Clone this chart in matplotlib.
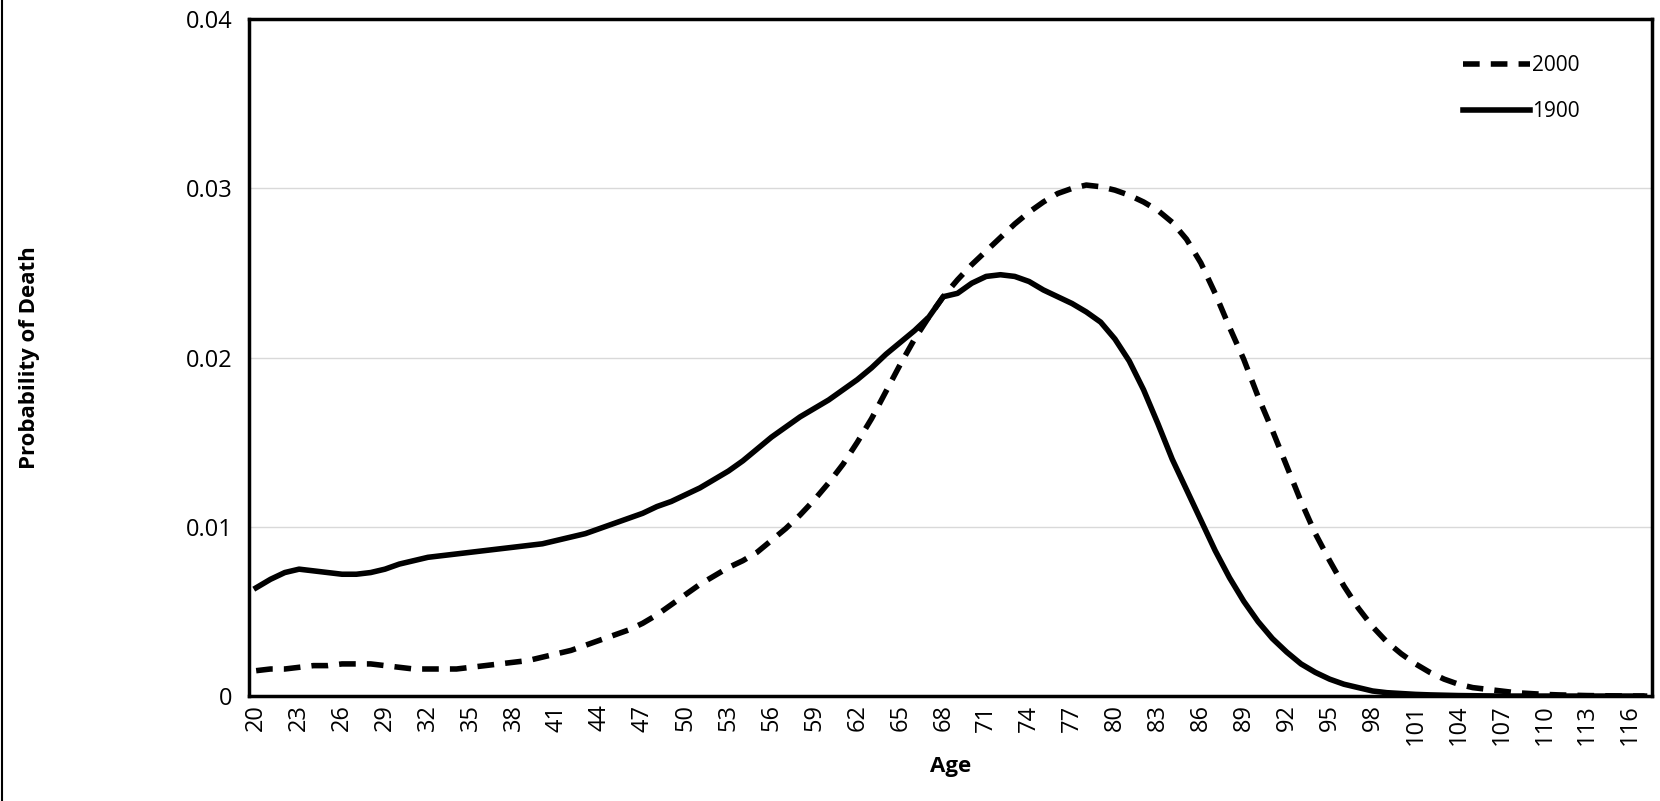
import matplotlib
matplotlib.use("Agg")
import matplotlib.pyplot as plt

plt.rcParams['font.family'] = ['Open Sans', 'DejaVu Sans']

# ages 20..117 (category axis)
ages = list(range(20, 118))

prob_1900 = [
    .0064, .0069, .0073, .0075, .0074, .0073, .0072, .0072, .0073, .0075,
    .0078, .0080, .0082, .0083, .0084, .0085, .0086, .0087, .0088, .0089,
    .0090, .0092, .0094, .0096, .0099, .0102, .0105, .0108, .0112, .0115,
    .0119, .0123, .0128, .0133, .0139, .0146, .0153, .0159, .0165, .0170,
    .0175, .0181, .0187, .0194, .0202, .0209, .0216, .0224, .0236, .0238,
    .0244, .0248, .0249, .0248, .0245, .0240, .0236, .0232, .0227, .0221,
    .0211, .0198, .0181, .0161, .0140, .0122, .0104, .0086, .0070, .0056,
    .0044, .0034, .0026, .0019, .0014, .0010, .0007, .0005, .0003, .0002,
    .00015, .0001, .00007, .00005, .00003, .00002, .00001, 0, 0, 0,
    0, 0, 0, 0, 0, 0, 0, 0,
]

prob_2000 = [
    .0015, .0016, .0016, .0017, .0018, .0018, .0019, .0019, .0019, .0018,
    .0017, .0016, .0016, .0016, .0016, .0017, .0018, .0019, .0020, .0021,
    .0023, .0025, .0027, .0030, .0033, .0036, .0039, .0043, .0048, .0054,
    .0060, .0066, .0071, .0076, .0080, .0085, .0092, .0099, .0107, .0116,
    .0126, .0137, .0150, .0164, .0180, .0196, .0211, .0224, .0236, .0246,
    .0255, .0263, .0271, .0279, .0286, .0292, .0297, .0300, .0302, .0301,
    .0299, .0296, .0292, .0287, .0280, .0270, .0256, .0238, .0218, .0199,
    .0177, .0157, .0136, .0115, .0096, .0080, .0065, .0052, .0041, .0032,
    .0025, .0019, .0014, .0010, .0007, .0005, .0004, .0003, .0002, .00015,
    .0001, .00007, .00005, .00003, .00002, .00001, 0, 0,
]

fig = plt.figure(figsize=(16.6, 8.01), dpi=100)
ax = fig.add_axes([0.150, 0.131, 0.845, 0.845])

x = list(range(len(ages)))
ax.plot(x, prob_2000, color='black', lw=4, ls=(0, (3, 2)), label='2000')
ax.plot(x, prob_1900, color='black', lw=4, label='1900')

ax.set_xlim(-0.5, len(ages) - 0.5)
ax.set_ylim(0, 0.04)
ax.set_yticks([0, 0.01, 0.02, 0.03, 0.04])
ax.set_yticklabels(['0', '0.01', '0.02', '0.03', '0.04'], fontsize=17)
ticks = [i for i, a in enumerate(ages) if (a - 20) % 3 == 0]
ax.set_xticks(ticks)
ax.set_xticklabels([str(ages[i]) for i in ticks], rotation=90, fontsize=17)
ax.tick_params(axis='x', length=0, pad=6)
ax.tick_params(axis='y', length=0, pad=12)
ax.grid(axis='y', color='#d9d9d9', lw=1)
ax.set_axisbelow(True)
for s in ax.spines.values():
    s.set_linewidth(2.5)

ax.set_xlabel('Age', fontsize=16, fontweight='bold', labelpad=8)
ax.set_ylabel('Probability of Death', fontsize=16, fontweight='bold', labelpad=105)

leg = ax.legend(loc='upper right', frameon=False, fontsize=15, handlelength=3.2,
                handletextpad=0.1, labelspacing=1.2, bbox_to_anchor=(0.962, 0.975))

# thin border line at the left edge of the image
fig.add_artist(plt.Line2D([0.001, 0.001], [0, 1], color='black', lw=1.5))

fig.savefig('out.png', dpi=100)
